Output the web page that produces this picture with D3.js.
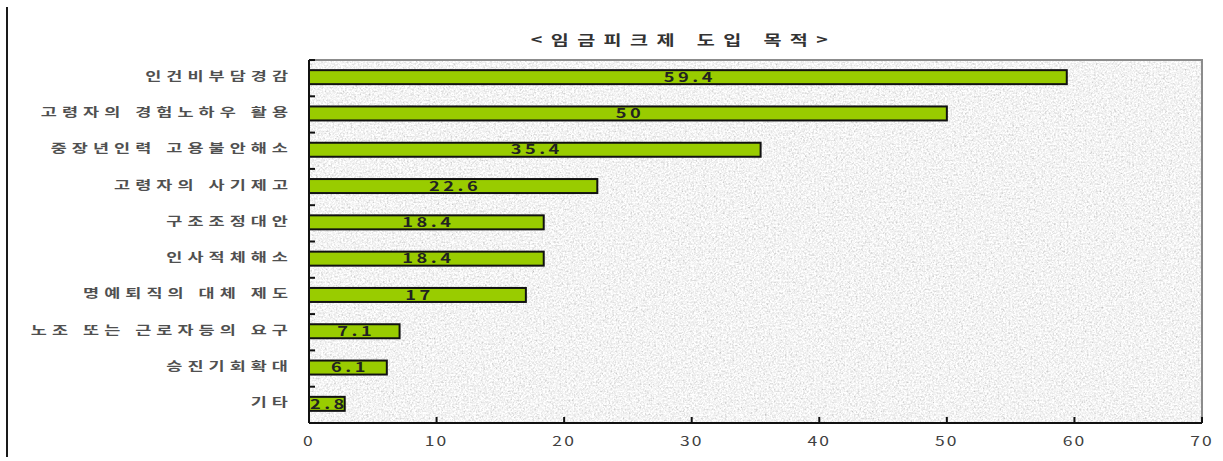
<!DOCTYPE html>
<html lang="ko">
<head>
<meta charset="utf-8">
<script src="https://cdn.jsdelivr.net/npm/d3@7"></script>
<style>
  html, body { margin: 0; padding: 0; background: #ffffff; }
  svg { display: block; }
  text { font-family: "Noto Sans CJK KR", "Noto Sans", sans-serif; }
</style>
</head>
<body>
<svg id="chart" width="1223" height="461"></svg>
<script>
// 임금피크제 도입 목적 (단위: %)
const categories = [
  "인건비부담경감",
  "고령자의 경험노하우 활용",
  "중장년인력 고용불안해소",
  "고령자의 사기제고",
  "구조조정대안",
  "인사적체해소",
  "명예퇴직의 대체 제도",
  "노조 또는 근로자등의 요구",
  "승진기회확대",
  "기타"
];
const values = [59.4, 50, 35.4, 22.6, 18.4, 18.4, 17, 7.1, 6.1, 2.8];
const valueLabels = ["59.4", "50", "35.4", "22.6", "18.4", "18.4", "17", "7.1", "6.1", "2.8"];
const xTicks = [0, 10, 20, 30, 40, 50, 60, 70];
const title = "<임금피크제 도입 목적>";

const svg = d3.select("#chart");
const W = 1223, H = 461;
const margin = { top: 60, right: 21, bottom: 38, left: 309 };
const plotW = W - margin.left - margin.right;
const plotH = H - margin.top - margin.bottom;

// horizontal stretch applied to all text
const SX = 1.4;
function place(sel, x, y) {
  sel.attr("transform", `translate(${x},${y}) scale(${SX},1)`);
}

const x = d3.scaleLinear().domain([0, 70]).range([0, plotW]);
const y = d3.scaleBand().domain(categories).range([0, plotH]).padding(0);

// granite-like background texture for the plot area
const defs = svg.append("defs");
const f = defs.append("filter").attr("id", "granite")
  .attr("x", 0).attr("y", 0).attr("width", "100%").attr("height", "100%")
  .attr("filterUnits", "objectBoundingBox");
f.append("feTurbulence").attr("type", "fractalNoise").attr("baseFrequency", 0.55)
  .attr("numOctaves", 3).attr("seed", 7).attr("result", "noise");
f.append("feColorMatrix").attr("type", "matrix")
  .attr("values", "0.33 0.33 0.33 0 0  0.33 0.33 0.33 0 0  0.33 0.33 0.33 0 0  0 0 0 0 1")
  .attr("result", "gray");
const ct = f.append("feComponentTransfer");
["feFuncR", "feFuncG", "feFuncB"].forEach(fn =>
  ct.append(fn).attr("type", "linear").attr("slope", 1.25).attr("intercept", 0.28));

// outer left rule
svg.append("line")
  .attr("x1", 7).attr("x2", 7).attr("y1", 7).attr("y2", 457)
  .attr("stroke", "#1a1a1a").attr("stroke-width", 2);

const g = svg.append("g").attr("transform", `translate(${margin.left},${margin.top})`);

g.append("rect")
  .attr("width", plotW).attr("height", plotH)
  .attr("fill", "#ececec")
  .attr("filter", "url(#granite)");

// gray frame on top and right
g.append("path")
  .attr("d", `M0,0H${plotW}V${plotH}`)
  .attr("fill", "none").attr("stroke", "#8c8c8c").attr("stroke-width", 2);

// bars
const barH = 14;
g.selectAll("rect.bar")
  .data(values)
  .join("rect")
  .attr("class", "bar")
  .attr("x", 0)
  .attr("y", (d, i) => y(categories[i]) + y.bandwidth() / 2 - barH / 2 - 1)
  .attr("width", d => x(d))
  .attr("height", barH)
  .attr("fill", "#99cc00")
  .attr("stroke", "#111")
  .attr("stroke-width", 2);

// value labels centred on each bar
g.selectAll("text.val")
  .data(values)
  .join("text")
  .attr("class", "val")
  .each(function (d, i) {
    place(d3.select(this), x(d) / 2 + 2, y(categories[i]) + y.bandwidth() / 2 - 1);
  })
  .attr("text-anchor", "middle")
  .attr("dy", "0.36em")
  .attr("font-size", 13)
  .attr("font-weight", "bold")
  .attr("letter-spacing", 2.5)
  .attr("fill", "#222")
  .text((d, i) => valueLabels[i]);

// y axis line with ticks at category boundaries
const yAxis = g.append("g");
yAxis.append("line").attr("x1", 0).attr("x2", 0).attr("y1", 0).attr("y2", plotH)
  .attr("stroke", "#111").attr("stroke-width", 2);
const bounds = categories.map(c => y(c)).concat([plotH]);
yAxis.selectAll("line.tk").data(bounds).join("line").attr("class", "tk")
  .attr("x1", 0).attr("x2", 6).attr("y1", d => d).attr("y2", d => d)
  .attr("stroke", "#111").attr("stroke-width", 2);

// category labels
g.selectAll("text.cat")
  .data(categories)
  .join("text")
  .attr("class", "cat")
  .each(function (d) {
    place(d3.select(this), -16, y(d) + y.bandwidth() / 2 - 2);
  })
  .attr("text-anchor", "end")
  .attr("dy", "0.36em")
  .attr("font-size", 12.5)
  .attr("font-weight", "bold")
  .attr("letter-spacing", 3.6)
  .attr("fill", "#505050")
  .text(d => d);

// x axis line with inward ticks
const xAxis = g.append("g").attr("transform", `translate(0,${plotH})`);
xAxis.append("line").attr("x1", 0).attr("x2", plotW).attr("y1", 0).attr("y2", 0)
  .attr("stroke", "#111").attr("stroke-width", 2);
xAxis.selectAll("line.tk").data(xTicks).join("line").attr("class", "tk")
  .attr("x1", d => x(d)).attr("x2", d => x(d)).attr("y1", 0).attr("y2", -6)
  .attr("stroke", "#111").attr("stroke-width", 2);
xAxis.selectAll("text").data(xTicks).join("text")
  .each(function (d) { place(d3.select(this), x(d), 18); })
  .attr("text-anchor", "middle")
  .attr("dy", "0.36em")
  .attr("font-size", 12.5)
  .attr("letter-spacing", 1.5)
  .attr("fill", "#404040")
  .text(d => d);

// title
svg.append("text")
  .call(s => place(s, margin.left + plotW / 2 - 72, 40))
  .attr("text-anchor", "middle")
  .attr("dy", "0.36em")
  .attr("font-size", 14)
  .attr("font-weight", "bold")
  .attr("letter-spacing", 6)
  .attr("fill", "#333")
  .text(title);
</script>
</body>
</html>
